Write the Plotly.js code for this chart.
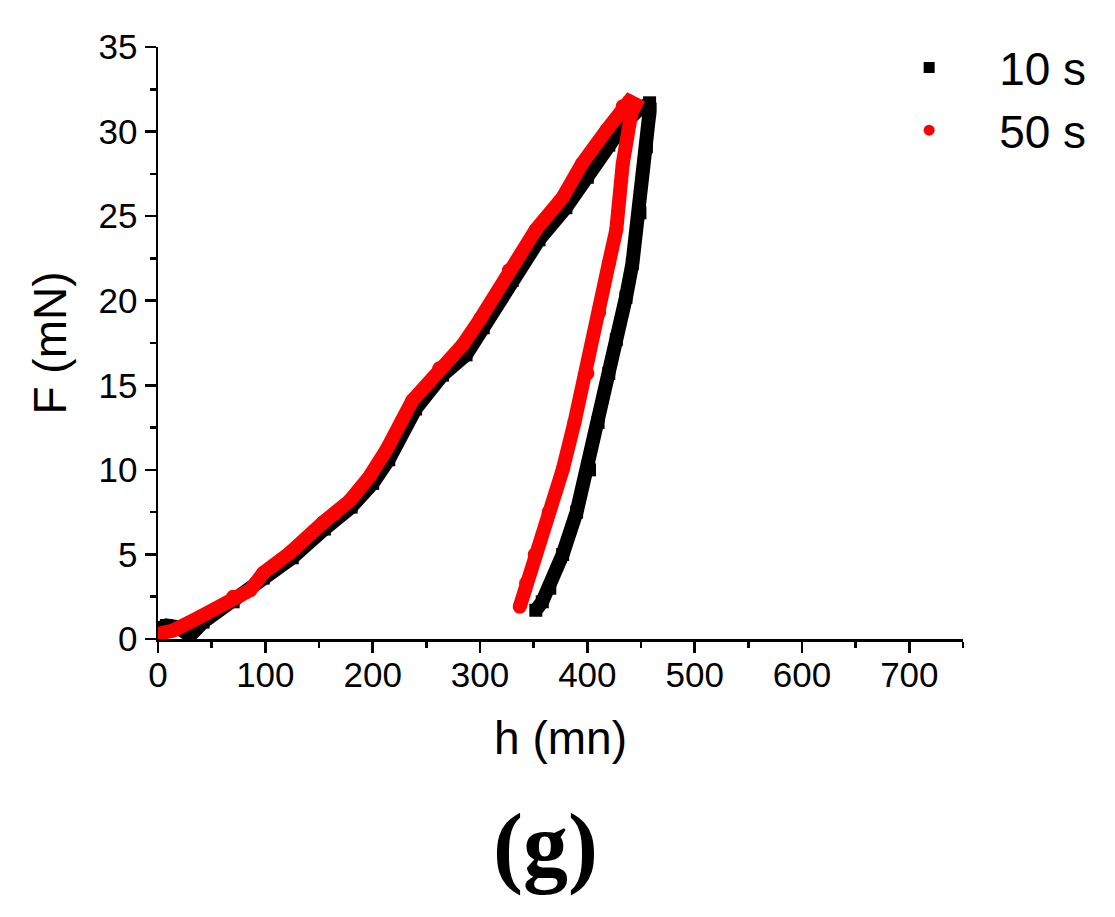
<!DOCTYPE html>
<html>
<head>
<meta charset="utf-8">
<script src="https://cdn.plot.ly/plotly-3.0.1.min.js"></script>
<style>html,body{margin:0;padding:0;background:#fff;}#chart{width:1115px;height:917px;}</style>
</head>
<body>
<div id="chart"></div>
<script>
// 10 s series (black): loading then unloading
const h10 = [0, 8, 18, 30, 42, 70, 98, 125, 155, 180, 200, 215, 240, 265, 287, 303, 330, 355, 380, 400, 420, 435, 448, 458,
             458, 455, 449, 442, 436, 427, 420, 410, 402, 390, 377, 365, 358, 352];
const F10 = [0.6, 0.8, 0.7, 0.2, 1.0, 2.2, 3.6, 4.8, 6.5, 7.8, 9.2, 10.6, 13.6, 15.6, 16.8, 18.4, 21.2, 23.6, 25.5, 27.3, 29.2, 30.5, 31.3, 31.7,
             31.2, 29.1, 25.2, 22.2, 20.2, 17.7, 15.7, 12.8, 10.0, 7.5, 5.0, 3.0, 2.2, 1.7];
// 50 s series (red)
const h50 = [0, 14, 39, 70, 86, 98, 123, 154, 165, 179, 197, 213, 237, 253, 262, 284, 300, 327, 352, 377, 395, 418, 433, 439, 445,
             441, 433, 427, 420, 411, 400, 388, 377, 364, 351, 343, 337];
const F50 = [0.3, 0.5, 1.3, 2.5, 2.9, 3.9, 5.1, 6.9, 7.4, 8.2, 9.6, 11.2, 14.1, 15.2, 16.0, 17.4, 18.9, 21.8, 24.2, 26.1, 28.1, 30.1, 31.5, 31.8, 31.6,
             31.1, 28.1, 24.2, 22.2, 19.3, 15.7, 12.8, 10.0, 7.5, 5.0, 3.3, 1.9];
const seriesNames = ['10 s', '50 s'];
const xTicks = [0, 100, 200, 300, 400, 500, 600, 700];
const yTicks = [0, 5, 10, 15, 20, 25, 30, 35];

const font = 'Arial, "Liberation Sans", sans-serif';
const traces = [
  {x: h10, y: F10, mode: 'lines+markers', showlegend: false,
   line: {color: '#000000', width: 14}, marker: {symbol: 'square', size: 13, color: '#000000'}},
  {x: h50, y: F50, mode: 'lines+markers', showlegend: false,
   line: {color: '#ff0000', width: 14}, marker: {symbol: 'circle', size: 14, color: '#ff0000'}},
  {x: [null], y: [null], mode: 'markers', name: seriesNames[0],
   marker: {symbol: 'square', size: 11, color: '#000000'}},
  {x: [null], y: [null], mode: 'markers', name: seriesNames[1],
   marker: {symbol: 'circle', size: 11, color: '#ff0000'}}
];

const axisCommon = {
  showline: true, linecolor: '#000', linewidth: 2.5, mirror: false,
  ticks: 'outside', ticklen: 11, tickwidth: 2.5, tickcolor: '#000',
  showgrid: false, zeroline: false, automargin: false,
  tickfont: {family: font, size: 35, color: '#000'}
};

const layout = {
  width: 1115, height: 917,
  margin: {l: 158, r: 152, t: 47, b: 278},
  paper_bgcolor: '#fff', plot_bgcolor: '#fff',
  font: {family: font, color: '#000'},
  xaxis: Object.assign({}, axisCommon, {
    range: [0, 750], tickvals: xTicks, ticklabelstandoff: -8,
    minor: {ticks: 'outside', ticklen: 6, tickwidth: 2.5, tickcolor: '#000', dtick: 50, tick0: 0, showgrid: false},
    title: {text: 'h (mn)', font: {family: font, size: 46, color: '#000'}, standoff: 30}
  }),
  yaxis: Object.assign({}, axisCommon, {
    range: [0, 35], tickvals: yTicks,
    minor: {ticks: 'outside', ticklen: 6, tickwidth: 2.5, tickcolor: '#000', dtick: 2.5, tick0: 0, showgrid: false},
    title: {text: 'F (mN)', font: {family: font, size: 46, color: '#000'}, standoff: 18}
  }),
  legend: {
    x: 0.871, y: 1.027, xanchor: 'left', yanchor: 'top',
    bgcolor: 'rgba(0,0,0,0)', borderwidth: 0,
    font: {family: font, size: 46, color: '#000'},
    itemwidth: 130, tracegroupgap: 0
  },
  annotations: [{
    text: '<b>(g)</b>', xref: 'paper', yref: 'paper', x: 0.481, y: -0.35,
    xanchor: 'center', yanchor: 'middle', showarrow: false,
    font: {family: '"Liberation Serif", "Times New Roman", serif', size: 90, color: '#000'}
  }]
};

Plotly.newPlot('chart', traces, layout, {displayModeBar: false, staticPlot: true});
</script>
</body>
</html>
